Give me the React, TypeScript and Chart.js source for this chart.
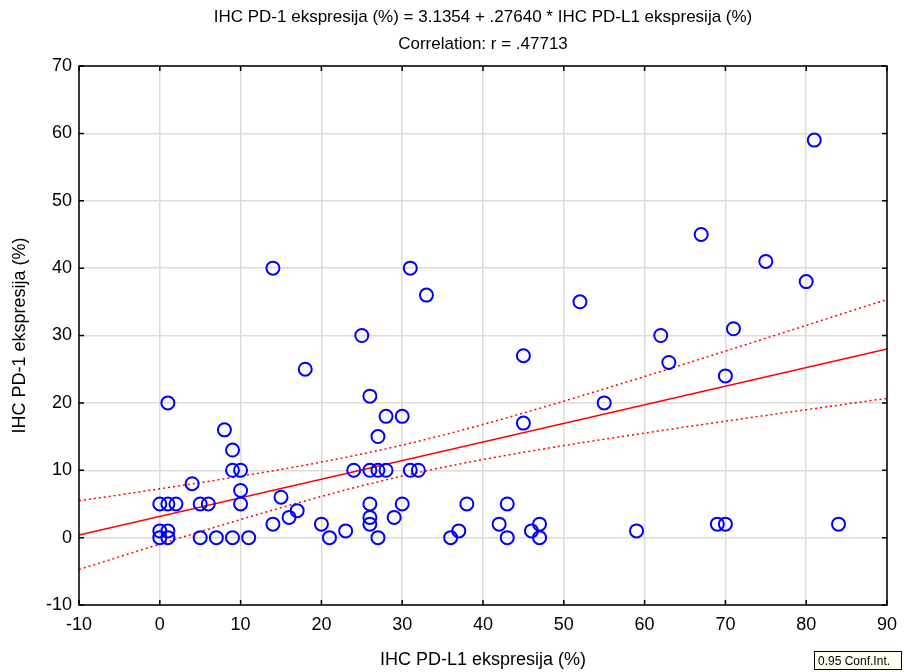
import React, { useEffect, useRef } from "react";
import Chart from "chart.js/auto";

const TITLE_LINES = [
  "IHC PD-1 ekspresija (%) = 3.1354 + .27640 * IHC PD-L1 ekspresija (%)",
  "Correlation: r = .47713",
];
const X_TITLE = "IHC PD-L1 ekspresija (%)";
const Y_TITLE = "IHC PD-1 ekspresija (%)";
const LEGEND_TEXT = "0.95 Conf.Int.";

const INTERCEPT = 3.1354;
const SLOPE = 0.2764;

const xTicks = [-10, 0, 10, 20, 30, 40, 50, 60, 70, 80, 90];
const yTicks = [-10, 0, 10, 20, 30, 40, 50, 60, 70];

// Observed points: PD-L1 (x) and PD-1 (y)
const pdl1 = [
  81, 67, 75, 80, 14, 31, 33, 52, 25, 62, 71, 45, 63, 18, 70, 1, 26, 55, 28, 30,
  45, 8, 27, 9, 9, 10, 24, 26, 27, 28, 31, 32, 4, 10, 15, 0, 1, 2, 5, 6,
  10, 26, 30, 38, 43, 17, 16, 26, 29, 14, 20, 26, 42, 47, 69, 70, 84, 0, 1, 23,
  37, 46, 59, 0, 1, 5, 7, 9, 11, 21, 27, 36, 43, 47,
];
const pd1 = [
  59, 45, 41, 38, 40, 40, 36, 35, 30, 30, 31, 27, 26, 25, 24, 20, 21, 20, 18, 18,
  17, 16, 15, 13, 10, 10, 10, 10, 10, 10, 10, 10, 8, 7, 6, 5, 5, 5, 5, 5,
  5, 5, 5, 5, 5, 4, 3, 3, 3, 2, 2, 2, 2, 2, 2, 2, 2, 1, 1, 1,
  1, 1, 1, 0, 0, 0, 0, 0, 0, 0, 0, 0, 0, 0,
];

// Confidence band
const ciX = [-10, -5, 0, 5, 10, 15, 20, 25, 30, 35, 40, 45, 50, 55, 60, 65, 70, 75, 80, 85, 90];
const ciUpper = [5.47, 6.34, 7.24, 8.16, 9.12, 10.12, 11.21, 12.41, 13.73, 15.2, 16.79, 18.49, 20.25, 22.07, 23.92, 25.79, 27.68, 29.59, 31.5, 33.43, 35.35];
const ciLower = [-4.73, -2.84, -0.97, 0.88, 2.68, 4.44, 6.11, 7.69, 9.13, 10.42, 11.59, 12.66, 13.66, 14.61, 15.52, 16.41, 17.28, 18.14, 18.99, 19.83, 20.67];

const FONT = "Arial, 'Liberation Sans', sans-serif";

const framePlugin = {
  id: "frame",
  afterDraw(chart: any) {
    const { ctx, chartArea, scales } = chart;
    const { left, right, top, bottom } = chartArea;
    const x = scales.x;
    const y = scales.y;
    ctx.save();
    ctx.strokeStyle = "#000";
    ctx.lineWidth = 1.5;
    ctx.strokeRect(left, top, right - left, bottom - top);
    ctx.beginPath();
    for (const v of xTicks) {
      const px = x.getPixelForValue(v);
      ctx.moveTo(px, bottom);
      ctx.lineTo(px, bottom - 5);
      ctx.moveTo(px, top);
      ctx.lineTo(px, top + 5);
    }
    for (const v of yTicks) {
      const py = y.getPixelForValue(v);
      ctx.moveTo(left, py);
      ctx.lineTo(left + 5, py);
      ctx.moveTo(right, py);
      ctx.lineTo(right - 5, py);
    }
    ctx.stroke();

    // title centred over the plot area
    ctx.fillStyle = "#000";
    ctx.font = `17px ${FONT}`;
    ctx.textAlign = "center";
    ctx.textBaseline = "middle";
    const cx = (left + right) / 2;
    TITLE_LINES.forEach((t, i) => ctx.fillText(t, cx, 17 + i * 27));

    // legend box
    const bx = 814, by = 651, bw = 88, bh = 19;
    ctx.fillStyle = "#fffff0";
    ctx.fillRect(bx, by, bw, bh);
    ctx.lineWidth = 1;
    ctx.strokeStyle = "#000";
    ctx.strokeRect(bx + 0.5, by + 0.5, bw - 1, bh - 1);
    ctx.fillStyle = "#000";
    ctx.font = `12px ${FONT}`;
    ctx.textBaseline = "middle";
    ctx.textAlign = "left";
    ctx.fillText(LEGEND_TEXT, bx + 4, by + bh / 2 + 1);
    ctx.restore();
  },
};

export default function App() {
  const ref = useRef<HTMLCanvasElement | null>(null);

  useEffect(() => {
    if (!ref.current) return;
    const points = pdl1.map((v, i) => ({ x: v, y: pd1[i] }));
    const fitX = [xTicks[0], xTicks[xTicks.length - 1]];
    const fit = fitX.map((v) => ({ x: v, y: INTERCEPT + SLOPE * v }));
    const upper = ciX.map((v, i) => ({ x: v, y: ciUpper[i] }));
    const lower = ciX.map((v, i) => ({ x: v, y: ciLower[i] }));

    const chart = new Chart(ref.current, {
      type: "scatter",
      data: {
        datasets: [
          {
            label: "points",
            data: points,
            pointRadius: 6.5,
            pointBorderWidth: 2,
            pointBorderColor: "#0000ff",
            pointBackgroundColor: "rgba(0,0,0,0)",
            pointHoverRadius: 6.5,
            showLine: false,
            order: 0,
          } as any,
          {
            type: "line",
            label: "fit",
            data: fit,
            borderColor: "#ff0000",
            borderWidth: 1.5,
            pointRadius: 0,
            fill: false,
            order: 1,
          } as any,
          {
            type: "line",
            label: "upper",
            data: upper,
            borderColor: "#ff0000",
            borderWidth: 1.5,
            borderDash: [2, 3],
            pointRadius: 0,
            cubicInterpolationMode: "monotone",
            fill: false,
            order: 1,
          } as any,
          {
            type: "line",
            label: "lower",
            data: lower,
            borderColor: "#ff0000",
            borderWidth: 1.5,
            borderDash: [2, 3],
            pointRadius: 0,
            cubicInterpolationMode: "monotone",
            fill: false,
            order: 1,
          } as any,
        ],
      },
      options: {
        animation: false,
        responsive: true,
        maintainAspectRatio: false,
        layout: { padding: { left: 0, right: 0, top: 66, bottom: 0 } },
        plugins: {
          legend: { display: false },
          tooltip: { enabled: false },
          title: { display: false },
        },
        scales: {
          x: {
            type: "linear",
            min: -10,
            max: 90,
            afterBuildTicks: (s: any) => {
              s.ticks = xTicks.map((v) => ({ value: v }));
            },
            afterFit: (s: any) => {
              s.height = 67;
              s.paddingRight = 17;
              s.paddingLeft = 0;
            },
            grid: { color: "#dcdcdc", lineWidth: 1.5, drawTicks: false },
            border: { display: false },
            ticks: {
              color: "#000",
              padding: 9,
              font: { family: FONT, size: 18 },
              maxRotation: 0,
            },
            title: {
              display: true,
              text: X_TITLE,
              color: "#000",
              font: { family: FONT, size: 18 },
              padding: { top: 0, bottom: 1.5 },
            },
          },
          y: {
            type: "linear",
            min: -10,
            max: 70,
            afterBuildTicks: (s: any) => {
              s.ticks = yTicks.map((v) => ({ value: v }));
            },
            afterFit: (s: any) => {
              s.width = 79;
            },
            grid: { color: "#dcdcdc", lineWidth: 1.5, drawTicks: false },
            border: { display: false },
            ticks: {
              color: "#000",
              padding: 7,
              font: { family: FONT, size: 18 },
            },
            title: {
              display: true,
              text: Y_TITLE,
              color: "#000",
              font: { family: FONT, size: 18 },
              padding: { top: 9, bottom: 0 },
            },
          },
        },
      },
      plugins: [framePlugin],
    });
    return () => chart.destroy();
  }, []);

  return (
    <div style={{ position: "fixed", left: 0, top: 0, width: 904, height: 672, background: "#fff" }}>
      <canvas ref={ref} />
    </div>
  );
}
